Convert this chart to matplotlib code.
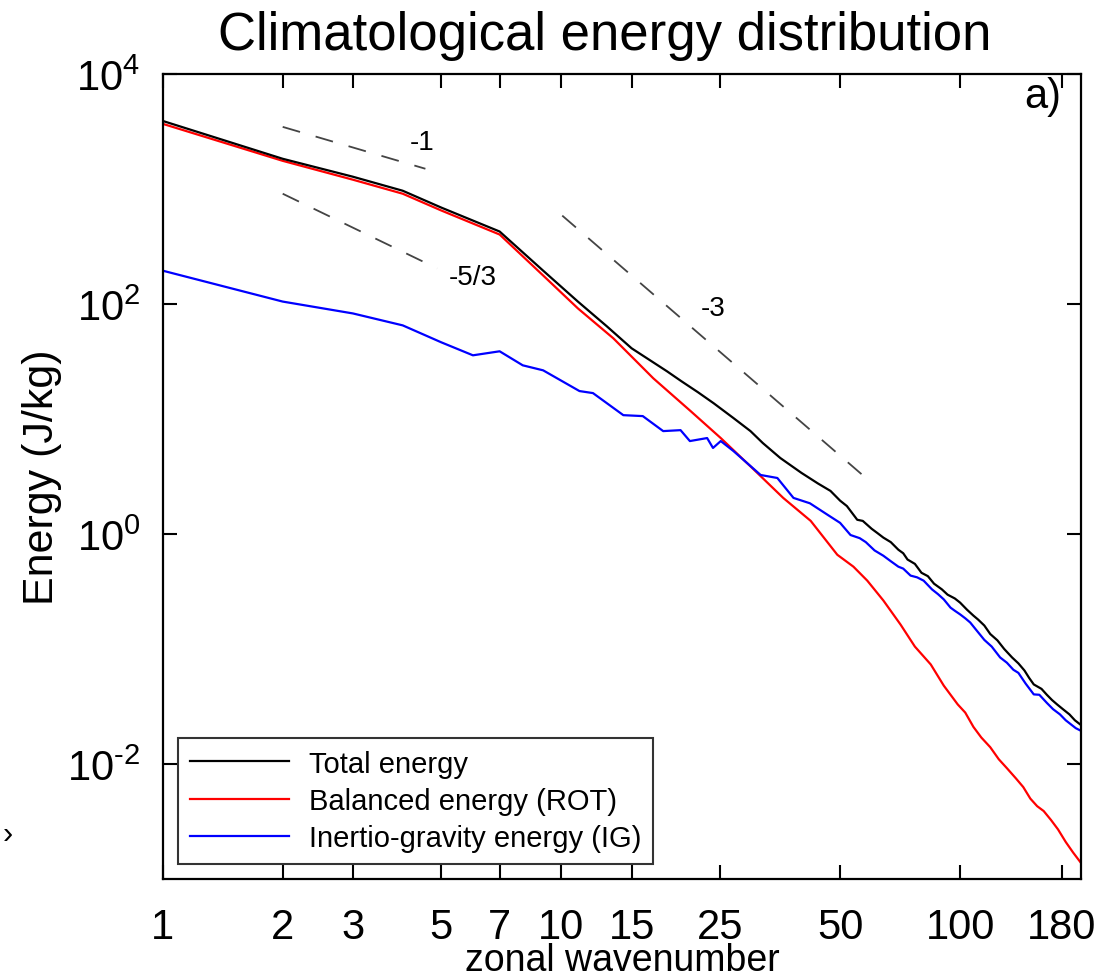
import matplotlib
matplotlib.use('Agg')
import matplotlib.pyplot as plt
import numpy as np

plt.rcParams['font.family'] = ['Liberation Sans', 'DejaVu Sans']
plt.rcParams['mathtext.fontset'] = 'custom'
plt.rcParams['mathtext.rm'] = 'Liberation Sans'
plt.rcParams['mathtext.it'] = 'Liberation Sans:italic'
plt.rcParams['mathtext.bf'] = 'Liberation Sans:bold'

# ---------------------------------
# values (wavenumber, energy J/kg)
k_total = [1, 2, 3, 4, 5, 7, 9, 11, 13, 15, 18.4, 20, 22, 24.1, 27, 29.8, 32,
           35.4, 40, 44, 47.3, 50, 52, 55.2, 57, 60, 62, 64.2, 67, 70, 72, 73.8,
           77, 80, 83, 86, 90, 93, 97, 100, 104, 108, 111, 115, 119, 124, 129,
           135, 140, 145, 149, 153, 160, 165, 170, 175, 181, 188, 194, 200]
e_total = [3910, 1832, 1279, 966, 689, 427, 195, 105, 64, 41.2, 26.0, 21.3, 17.1,
           13.7, 10.2, 7.85, 6.18, 4.58, 3.40, 2.75, 2.37, 1.95, 1.75, 1.33, 1.30,
           1.11, 1.02, 0.93, 0.85, 0.73, 0.68, 0.60, 0.55, 0.46, 0.43, 0.37, 0.33,
           0.297, 0.275, 0.253, 0.22, 0.195, 0.18, 0.160, 0.135, 0.119, 0.10,
           0.0844, 0.075, 0.065, 0.056, 0.0492, 0.045, 0.040, 0.036, 0.033, 0.030,
           0.027, 0.024, 0.0221]

k_rot = [1, 2, 3, 4, 5, 7, 9, 11, 13.5, 17, 21.1, 25.1, 30, 36, 42.2, 49.2,
         54, 58.5, 64.2, 70.9, 77, 84.4, 91, 98.6, 103, 108, 113, 119, 125, 131,
         138, 144, 150, 156, 162, 169, 176, 184, 192, 200]
e_rot = [3690, 1758, 1205, 910, 650, 402, 177, 91.6, 50.3, 22.6, 11.7, 6.83,
         3.79, 2.06, 1.30, 0.66, 0.52, 0.393, 0.264, 0.163, 0.105, 0.0734, 0.048,
         0.033, 0.028, 0.021, 0.017, 0.014, 0.011, 0.0092, 0.0075, 0.0063,
         0.0050, 0.0043, 0.0039, 0.00326, 0.0027, 0.0021, 0.0017, 0.00141]

k_ig = [1, 2, 3, 4, 5, 6, 7, 8, 9, 11.1, 12, 14.3, 16, 18, 19.9, 21, 23.2, 24,
        25.1, 27, 31.6, 34.8, 38.2, 42, 46.5, 50, 53.1, 56, 58, 61, 64.2, 67, 70,
        72, 75.1, 78, 81, 85, 88, 91, 94.6, 97, 100, 103, 106, 110, 115, 120,
        126, 131, 136, 140, 146, 153, 158, 165, 171, 178, 184, 190, 195, 200]
e_ig = [195, 105, 82.8, 65.2, 46.4, 35.8, 38.8, 29.3, 26.5, 17.5, 16.8, 10.8,
        10.6, 7.85, 8.0, 6.43, 6.83, 5.6, 6.43, 5.27, 3.26, 3.07, 2.06, 1.85,
        1.47, 1.25, 0.98, 0.92, 0.85, 0.72, 0.647, 0.58, 0.52, 0.50, 0.435, 0.42,
        0.393, 0.33, 0.30, 0.27, 0.229, 0.215, 0.20, 0.185, 0.170, 0.145, 0.12,
        0.105, 0.0844, 0.076, 0.066, 0.062, 0.050, 0.0403, 0.040, 0.034, 0.030,
        0.027, 0.024, 0.022, 0.0205, 0.0196]

# reference slope lines (end points)
k_m1 = [2.0, 4.56]
e_m1 = [3470, 1500]
k_m53 = [2.0, 4.88]
e_m53 = [910, 204]
k_m3 = [10.05, 56.9]
e_m3 = [587, 3.26]

x_ticks = [1, 2, 3, 5, 7, 10, 15, 25, 50, 100, 180]
y_ticks = [1e-2, 1e0, 1e2, 1e4]
y_ticklabels = [r'$10^{\text{-}2}$', r'$10^{0}$', r'$10^{2}$', r'$10^{4}$']

# ---------------------------------
fig = plt.figure(figsize=(11.05, 9.78), dpi=100)
ax = fig.add_axes([0.1472, 0.1002, 0.8311, 0.8231])

ax.plot(k_total, e_total, color='k', lw=1.6, label='Total energy', zorder=3)
ax.plot(k_rot, e_rot, color='#ff0000', lw=1.6, label='Balanced energy (ROT)', zorder=2)
ax.plot(k_ig, e_ig, color='#0000ff', lw=1.6, label='Inertio-gravity energy (IG)', zorder=2)

for kk, ee in [(k_m1, e_m1), (k_m53, e_m53), (k_m3, e_m3)]:
    ax.plot(kk, ee, color='#444444', lw=1.3, dashes=(10, 9), zorder=1)

ax.text(4.47, 2570, '-1', fontsize=20, ha='center', va='center')
ax.text(5.98, 173, '-5/3', fontsize=20, ha='center', va='center')
ax.text(24.0, 91.7, '-3', fontsize=20, ha='center', va='center')
ax.text(0.979, 0.973, 'a)', transform=ax.transAxes, fontsize=30, ha='right', va='center')

ax.set_xscale('log')
ax.set_yscale('log')
ax.set_xlim(1, 201)
ax.set_ylim(1e-3, 1e4)

ax.set_xticks(x_ticks)
ax.set_xticklabels([str(t) for t in x_ticks])
ax.xaxis.set_minor_locator(matplotlib.ticker.NullLocator())
ax.set_yticks(y_ticks)
ax.set_yticklabels(y_ticklabels)
ax.yaxis.set_minor_locator(matplotlib.ticker.NullLocator())
ax.tick_params(which='major', direction='in', length=10, width=1.5,
               top=True, right=True, labelsize=30)
ax.tick_params(axis='x', pad=20)
ax.tick_params(axis='y', pad=16)
for s in ax.spines.values():
    s.set_linewidth(1.6)

ax.set_xlabel('zonal wavenumber', fontsize=27)
ax.xaxis.label.set_verticalalignment('baseline')
ax.xaxis.set_label_coords(0.5, -0.113)
ax.set_ylabel('Energy (J/kg)', fontsize=31)
ax.yaxis.set_label_coords(-0.11, 0.5)

leg = ax.legend(loc='lower left', bbox_to_anchor=(0.0167, 0.0186), borderaxespad=0,
                fontsize=21, frameon=True, fancybox=False, edgecolor='k',
                handlelength=3.4, handletextpad=0.7, labelspacing=0.32,
                borderpad=0.4)
leg.get_frame().set_linewidth(1.5)

fig.text(0.5475, 0.963, 'Climatological energy distribution', fontsize=38,
         ha='center', va='center')
fig.text(0.002, 1 - 835 / 978, '\u203a', fontsize=22, ha='left', va='center')

plt.savefig('out.png', dpi=100)
